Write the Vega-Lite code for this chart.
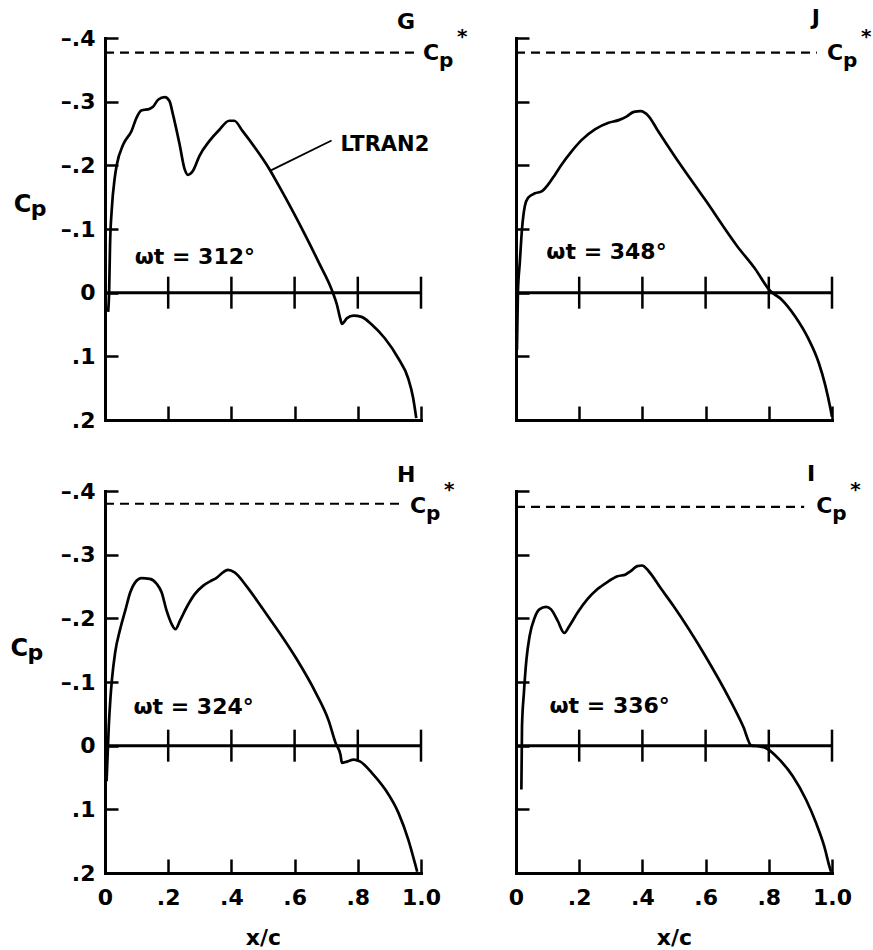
{
  "$schema": "https://vega.github.io/schema/vega-lite/v6.json",
  "background": "white",
  "padding": {"left": 10, "top": 6, "right": 0, "bottom": 0},
  "datasets": {
    "G": [
      {"x": 0.010, "cp": 0.03}, {"x": 0.013, "cp": 0.0}, {"x": 0.016, "cp": -0.076}, {"x": 0.021, "cp": -0.128},
      {"x": 0.031, "cp": -0.181}, {"x": 0.037, "cp": -0.2}, {"x": 0.058, "cp": -0.233}, {"x": 0.084, "cp": -0.254},
      {"x": 0.1, "cp": -0.275}, {"x": 0.115, "cp": -0.286}, {"x": 0.142, "cp": -0.289}, {"x": 0.152, "cp": -0.292},
      {"x": 0.168, "cp": -0.303}, {"x": 0.189, "cp": -0.307}, {"x": 0.204, "cp": -0.301}, {"x": 0.215, "cp": -0.28},
      {"x": 0.236, "cp": -0.233}, {"x": 0.252, "cp": -0.194}, {"x": 0.262, "cp": -0.185}, {"x": 0.278, "cp": -0.191},
      {"x": 0.299, "cp": -0.215}, {"x": 0.33, "cp": -0.238}, {"x": 0.362, "cp": -0.256}, {"x": 0.393, "cp": -0.27},
      {"x": 0.409, "cp": -0.27}, {"x": 0.435, "cp": -0.254}, {"x": 0.477, "cp": -0.226}, {"x": 0.519, "cp": -0.195},
      {"x": 0.55, "cp": -0.168}, {"x": 0.592, "cp": -0.13}, {"x": 0.634, "cp": -0.09}, {"x": 0.676, "cp": -0.048},
      {"x": 0.718, "cp": -0.004}, {"x": 0.734, "cp": 0.019}, {"x": 0.744, "cp": 0.04}, {"x": 0.75, "cp": 0.049},
      {"x": 0.766, "cp": 0.04}, {"x": 0.786, "cp": 0.036}, {"x": 0.812, "cp": 0.038}, {"x": 0.844, "cp": 0.05},
      {"x": 0.886, "cp": 0.072}, {"x": 0.928, "cp": 0.103}, {"x": 0.959, "cp": 0.134}, {"x": 0.975, "cp": 0.165},
      {"x": 0.985, "cp": 0.197}
    ],
    "J": [
      {"x": 0.003, "cp": 0.09}, {"x": 0.006, "cp": 0.0}, {"x": 0.012, "cp": -0.047}, {"x": 0.019, "cp": -0.1},
      {"x": 0.028, "cp": -0.136}, {"x": 0.038, "cp": -0.149}, {"x": 0.06, "cp": -0.156}, {"x": 0.081, "cp": -0.159},
      {"x": 0.102, "cp": -0.17}, {"x": 0.123, "cp": -0.185}, {"x": 0.144, "cp": -0.201}, {"x": 0.176, "cp": -0.222},
      {"x": 0.208, "cp": -0.24}, {"x": 0.251, "cp": -0.257}, {"x": 0.293, "cp": -0.267}, {"x": 0.325, "cp": -0.271},
      {"x": 0.351, "cp": -0.277}, {"x": 0.373, "cp": -0.284}, {"x": 0.394, "cp": -0.285}, {"x": 0.42, "cp": -0.277},
      {"x": 0.447, "cp": -0.256}, {"x": 0.5, "cp": -0.216}, {"x": 0.6, "cp": -0.145}, {"x": 0.7, "cp": -0.073},
      {"x": 0.756, "cp": -0.038}, {"x": 0.804, "cp": -0.003}, {"x": 0.841, "cp": 0.011}, {"x": 0.883, "cp": 0.037},
      {"x": 0.926, "cp": 0.073}, {"x": 0.958, "cp": 0.11}, {"x": 0.979, "cp": 0.146}, {"x": 0.995, "cp": 0.182},
      {"x": 1.0, "cp": 0.195}
    ],
    "H": [
      {"x": 0.005, "cp": 0.056}, {"x": 0.012, "cp": -0.031}, {"x": 0.017, "cp": -0.073}, {"x": 0.022, "cp": -0.104},
      {"x": 0.032, "cp": -0.146}, {"x": 0.048, "cp": -0.183}, {"x": 0.064, "cp": -0.212}, {"x": 0.08, "cp": -0.241},
      {"x": 0.095, "cp": -0.256}, {"x": 0.116, "cp": -0.263}, {"x": 0.142, "cp": -0.262}, {"x": 0.164, "cp": -0.254},
      {"x": 0.179, "cp": -0.241}, {"x": 0.195, "cp": -0.212}, {"x": 0.211, "cp": -0.191}, {"x": 0.223, "cp": -0.183},
      {"x": 0.237, "cp": -0.196}, {"x": 0.258, "cp": -0.217}, {"x": 0.284, "cp": -0.238}, {"x": 0.31, "cp": -0.251},
      {"x": 0.336, "cp": -0.259}, {"x": 0.352, "cp": -0.263}, {"x": 0.368, "cp": -0.27}, {"x": 0.389, "cp": -0.276},
      {"x": 0.41, "cp": -0.272}, {"x": 0.447, "cp": -0.251}, {"x": 0.488, "cp": -0.223}, {"x": 0.509, "cp": -0.208},
      {"x": 0.55, "cp": -0.179}, {"x": 0.604, "cp": -0.138}, {"x": 0.667, "cp": -0.083}, {"x": 0.708, "cp": -0.039},
      {"x": 0.73, "cp": -0.004}, {"x": 0.745, "cp": 0.014}, {"x": 0.75, "cp": 0.027}, {"x": 0.766, "cp": 0.025},
      {"x": 0.787, "cp": 0.022}, {"x": 0.808, "cp": 0.025}, {"x": 0.845, "cp": 0.043}, {"x": 0.887, "cp": 0.069},
      {"x": 0.929, "cp": 0.106}, {"x": 0.96, "cp": 0.148}, {"x": 0.981, "cp": 0.185}, {"x": 0.988, "cp": 0.198}
    ],
    "I": [
      {"x": 0.017, "cp": 0.069}, {"x": 0.019, "cp": -0.03}, {"x": 0.025, "cp": -0.083}, {"x": 0.033, "cp": -0.135},
      {"x": 0.043, "cp": -0.172}, {"x": 0.059, "cp": -0.201}, {"x": 0.074, "cp": -0.214}, {"x": 0.095, "cp": -0.218},
      {"x": 0.111, "cp": -0.214}, {"x": 0.132, "cp": -0.196}, {"x": 0.153, "cp": -0.177}, {"x": 0.169, "cp": -0.188},
      {"x": 0.195, "cp": -0.209}, {"x": 0.226, "cp": -0.23}, {"x": 0.258, "cp": -0.246}, {"x": 0.289, "cp": -0.257},
      {"x": 0.321, "cp": -0.266}, {"x": 0.347, "cp": -0.269}, {"x": 0.363, "cp": -0.274}, {"x": 0.384, "cp": -0.282},
      {"x": 0.399, "cp": -0.283}, {"x": 0.42, "cp": -0.274}, {"x": 0.457, "cp": -0.248}, {"x": 0.499, "cp": -0.219},
      {"x": 0.593, "cp": -0.146}, {"x": 0.677, "cp": -0.072}, {"x": 0.719, "cp": -0.03}, {"x": 0.745, "cp": 0.0},
      {"x": 0.77, "cp": 0.001}, {"x": 0.792, "cp": 0.004}, {"x": 0.834, "cp": 0.022}, {"x": 0.876, "cp": 0.048},
      {"x": 0.918, "cp": 0.085}, {"x": 0.95, "cp": 0.122}, {"x": 0.976, "cp": 0.159}, {"x": 0.992, "cp": 0.19},
      {"x": 0.997, "cp": 0.198}
    ],
    "xticks": [{"x": 0.2}, {"x": 0.4}, {"x": 0.6}, {"x": 0.8}, {"x": 1.0}],
    "one": [{}]
  },
  "columns": 2,
  "bounds": "flush",
  "spacing": {"row": 71, "column": 95},
  "concat": [
    {
      "width": 316, "height": 382,
      "layer": [
        {
          "data": {"name": "G"},
          "mark": {"type": "line", "color": "black", "strokeWidth": 2.7, "interpolate": "monotone"},
          "encoding": {
            "x": {"field": "x", "type": "quantitative", "scale": {"domain": [0, 1], "nice": false, "zero": false},
                  "axis": {"values": [0, 0.2, 0.4, 0.6, 0.8, 1], "tickSize": -14, "labels": false, "title": null}},
            "y": {"field": "cp", "type": "quantitative", "scale": {"domain": [-0.4, 0.2], "reverse": true, "nice": false, "zero": false},
                  "axis": {"values": [-0.4, -0.3, -0.2, -0.1, 0, 0.1, 0.2], "tickSize": -13, "labelPadding": 23, "title": null,
                           "labelExpr": "datum.value == 0 ? '0' : (datum.value < 0 ? '–' : '') + '.' + round(abs(datum.value) * 10)"}}
          }
        },
        {"data": {"name": "one"}, "mark": {"type": "rule", "color": "black", "strokeWidth": 2.2, "strokeDash": [9, 6]},
         "encoding": {"x": {"datum": 0, "type": "quantitative"}, "x2": {"datum": 0.985}, "y": {"datum": -0.377, "type": "quantitative"}}},
        {"data": {"name": "one"}, "mark": {"type": "rule", "color": "black", "strokeWidth": 3},
         "encoding": {"x": {"datum": 0, "type": "quantitative"}, "x2": {"datum": 1}, "y": {"datum": 0, "type": "quantitative"}}},
        {"data": {"name": "xticks"},
         "mark": {"type": "tick", "orient": "vertical", "size": 32, "thickness": 2.5, "color": "black", "opacity": 1},
         "encoding": {"x": {"field": "x", "type": "quantitative"}, "y": {"datum": 0, "type": "quantitative"}}},
        {"data": {"name": "one"}, "mark": {"type": "rule", "color": "black", "strokeWidth": 1.8},
         "encoding": {"x": {"datum": 0.717, "type": "quantitative"}, "y": {"datum": -0.239, "type": "quantitative"}, "x2": {"datum": 0.525}, "y2": {"datum": -0.192}}},
        {"data": {"name": "one"}, "mark": {"type": "text", "text": "LTRAN2", "align": "left", "baseline": "middle", "fontSize": 21},
         "encoding": {"x": {"datum": 0.745, "type": "quantitative"}, "y": {"datum": -0.232, "type": "quantitative"}}},
        {"data": {"name": "one"}, "mark": {"type": "text", "text": "ωt = 312°", "align": "left", "baseline": "middle", "fontSize": 22},
         "encoding": {"x": {"datum": 0.094, "type": "quantitative"}, "y": {"datum": -0.056, "type": "quantitative"}}},
        {"data": {"name": "one"}, "mark": {"type": "text", "text": "G", "align": "center", "baseline": "middle", "fontSize": 22},
         "encoding": {"x": {"datum": 0.953, "type": "quantitative"}, "y": {"datum": -0.425, "type": "quantitative"}}},
        {"data": {"name": "one"}, "mark": {"type": "text", "text": "C", "align": "left", "baseline": "middle", "fontSize": 22},
         "encoding": {"x": {"datum": 1.006, "type": "quantitative"}, "y": {"datum": -0.377, "type": "quantitative"}}},
        {"data": {"name": "one"}, "mark": {"type": "text", "text": "p", "align": "left", "baseline": "middle", "fontSize": 20, "dx": 16, "dy": 8},
         "encoding": {"x": {"datum": 1.006, "type": "quantitative"}, "y": {"datum": -0.377, "type": "quantitative"}}},
        {"data": {"name": "one"}, "mark": {"type": "text", "text": "*", "align": "left", "baseline": "middle", "fontSize": 20, "dx": 34, "dy": -16},
         "encoding": {"x": {"datum": 1.006, "type": "quantitative"}, "y": {"datum": -0.377, "type": "quantitative"}}},
        {"data": {"name": "one"}, "mark": {"type": "text", "text": "C", "align": "left", "baseline": "alphabetic", "fontSize": 24},
         "encoding": {"x": {"datum": -0.289, "type": "quantitative"}, "y": {"datum": -0.127, "type": "quantitative"}}},
        {"data": {"name": "one"}, "mark": {"type": "text", "text": "p", "align": "left", "baseline": "alphabetic", "fontSize": 22, "dx": 17, "dy": 4},
         "encoding": {"x": {"datum": -0.289, "type": "quantitative"}, "y": {"datum": -0.127, "type": "quantitative"}}}
      ]
    },
    {
      "width": 316, "height": 382,
      "layer": [
        {
          "data": {"name": "J"},
          "mark": {"type": "line", "color": "black", "strokeWidth": 2.7, "interpolate": "monotone"},
          "encoding": {
            "x": {"field": "x", "type": "quantitative", "scale": {"domain": [0, 1], "nice": false, "zero": false},
                  "axis": {"values": [0, 0.2, 0.4, 0.6, 0.8, 1], "tickSize": -14, "labels": false, "title": null}},
            "y": {"field": "cp", "type": "quantitative", "scale": {"domain": [-0.4, 0.2], "reverse": true, "nice": false, "zero": false},
                  "axis": {"values": [-0.4, -0.3, -0.2, -0.1, 0, 0.1, 0.2], "tickSize": -13, "labels": false, "title": null}}
          }
        },
        {"data": {"name": "one"}, "mark": {"type": "rule", "color": "black", "strokeWidth": 2.2, "strokeDash": [9, 6]},
         "encoding": {"x": {"datum": 0, "type": "quantitative"}, "x2": {"datum": 0.952}, "y": {"datum": -0.377, "type": "quantitative"}}},
        {"data": {"name": "one"}, "mark": {"type": "rule", "color": "black", "strokeWidth": 3},
         "encoding": {"x": {"datum": 0, "type": "quantitative"}, "x2": {"datum": 1}, "y": {"datum": 0, "type": "quantitative"}}},
        {"data": {"name": "xticks"},
         "mark": {"type": "tick", "orient": "vertical", "size": 32, "thickness": 2.5, "color": "black", "opacity": 1},
         "encoding": {"x": {"field": "x", "type": "quantitative"}, "y": {"datum": 0, "type": "quantitative"}}},
        {"data": {"name": "one"}, "mark": {"type": "text", "text": "ωt = 348°", "align": "left", "baseline": "middle", "fontSize": 22},
         "encoding": {"x": {"datum": 0.096, "type": "quantitative"}, "y": {"datum": -0.064, "type": "quantitative"}}},
        {"data": {"name": "one"}, "mark": {"type": "text", "text": "J", "align": "center", "baseline": "middle", "fontSize": 22},
         "encoding": {"x": {"datum": 0.949, "type": "quantitative"}, "y": {"datum": -0.432, "type": "quantitative"}}},
        {"data": {"name": "one"}, "mark": {"type": "text", "text": "C", "align": "left", "baseline": "middle", "fontSize": 22},
         "encoding": {"x": {"datum": 0.984, "type": "quantitative"}, "y": {"datum": -0.377, "type": "quantitative"}}},
        {"data": {"name": "one"}, "mark": {"type": "text", "text": "p", "align": "left", "baseline": "middle", "fontSize": 20, "dx": 16, "dy": 8},
         "encoding": {"x": {"datum": 0.984, "type": "quantitative"}, "y": {"datum": -0.377, "type": "quantitative"}}},
        {"data": {"name": "one"}, "mark": {"type": "text", "text": "*", "align": "left", "baseline": "middle", "fontSize": 20, "dx": 34, "dy": -16},
         "encoding": {"x": {"datum": 0.984, "type": "quantitative"}, "y": {"datum": -0.377, "type": "quantitative"}}}
      ]
    },
    {
      "width": 316, "height": 382,
      "layer": [
        {
          "data": {"name": "H"},
          "mark": {"type": "line", "color": "black", "strokeWidth": 2.7, "interpolate": "monotone"},
          "encoding": {
            "x": {"field": "x", "type": "quantitative", "scale": {"domain": [0, 1], "nice": false, "zero": false},
                  "axis": {"values": [0, 0.2, 0.4, 0.6, 0.8, 1], "tickSize": -14, "labelPadding": 28, "title": "x/c", "titlePadding": 19,
                           "labelExpr": "datum.value == 0 ? '0' : datum.value == 1 ? '1.0' : '.' + round(datum.value * 10)"}},
            "y": {"field": "cp", "type": "quantitative", "scale": {"domain": [-0.4, 0.2], "reverse": true, "nice": false, "zero": false},
                  "axis": {"values": [-0.4, -0.3, -0.2, -0.1, 0, 0.1, 0.2], "tickSize": -13, "labelPadding": 23, "title": null,
                           "labelExpr": "datum.value == 0 ? '0' : (datum.value < 0 ? '–' : '') + '.' + round(abs(datum.value) * 10)"}}
          }
        },
        {"data": {"name": "one"}, "mark": {"type": "rule", "color": "black", "strokeWidth": 2.2, "strokeDash": [9, 6]},
         "encoding": {"x": {"datum": 0, "type": "quantitative"}, "x2": {"datum": 0.943}, "y": {"datum": -0.38, "type": "quantitative"}}},
        {"data": {"name": "one"}, "mark": {"type": "rule", "color": "black", "strokeWidth": 3},
         "encoding": {"x": {"datum": 0, "type": "quantitative"}, "x2": {"datum": 1}, "y": {"datum": 0, "type": "quantitative"}}},
        {"data": {"name": "xticks"},
         "mark": {"type": "tick", "orient": "vertical", "size": 32, "thickness": 2.5, "color": "black", "opacity": 1},
         "encoding": {"x": {"field": "x", "type": "quantitative"}, "y": {"datum": 0, "type": "quantitative"}}},
        {"data": {"name": "one"}, "mark": {"type": "text", "text": "ωt = 324°", "align": "left", "baseline": "middle", "fontSize": 22},
         "encoding": {"x": {"datum": 0.09, "type": "quantitative"}, "y": {"datum": -0.061, "type": "quantitative"}}},
        {"data": {"name": "one"}, "mark": {"type": "text", "text": "H", "align": "center", "baseline": "middle", "fontSize": 22},
         "encoding": {"x": {"datum": 0.953, "type": "quantitative"}, "y": {"datum": -0.425, "type": "quantitative"}}},
        {"data": {"name": "one"}, "mark": {"type": "text", "text": "C", "align": "left", "baseline": "middle", "fontSize": 22},
         "encoding": {"x": {"datum": 0.965, "type": "quantitative"}, "y": {"datum": -0.377, "type": "quantitative"}}},
        {"data": {"name": "one"}, "mark": {"type": "text", "text": "p", "align": "left", "baseline": "middle", "fontSize": 20, "dx": 16, "dy": 8},
         "encoding": {"x": {"datum": 0.965, "type": "quantitative"}, "y": {"datum": -0.377, "type": "quantitative"}}},
        {"data": {"name": "one"}, "mark": {"type": "text", "text": "*", "align": "left", "baseline": "middle", "fontSize": 20, "dx": 34, "dy": -16},
         "encoding": {"x": {"datum": 0.965, "type": "quantitative"}, "y": {"datum": -0.377, "type": "quantitative"}}},
        {"data": {"name": "one"}, "mark": {"type": "text", "text": "C", "align": "left", "baseline": "alphabetic", "fontSize": 24},
         "encoding": {"x": {"datum": -0.299, "type": "quantitative"}, "y": {"datum": -0.141, "type": "quantitative"}}},
        {"data": {"name": "one"}, "mark": {"type": "text", "text": "p", "align": "left", "baseline": "alphabetic", "fontSize": 22, "dx": 17, "dy": 4},
         "encoding": {"x": {"datum": -0.299, "type": "quantitative"}, "y": {"datum": -0.141, "type": "quantitative"}}}
      ]
    },
    {
      "width": 316, "height": 382,
      "layer": [
        {
          "data": {"name": "I"},
          "mark": {"type": "line", "color": "black", "strokeWidth": 2.7, "interpolate": "monotone"},
          "encoding": {
            "x": {"field": "x", "type": "quantitative", "scale": {"domain": [0, 1], "nice": false, "zero": false},
                  "axis": {"values": [0, 0.2, 0.4, 0.6, 0.8, 1], "tickSize": -14, "labelPadding": 28, "title": "x/c", "titlePadding": 19,
                           "labelExpr": "datum.value == 0 ? '0' : datum.value == 1 ? '1.0' : '.' + round(datum.value * 10)"}},
            "y": {"field": "cp", "type": "quantitative", "scale": {"domain": [-0.4, 0.2], "reverse": true, "nice": false, "zero": false},
                  "axis": {"values": [-0.4, -0.3, -0.2, -0.1, 0, 0.1, 0.2], "tickSize": -13, "labels": false, "title": null}}
          }
        },
        {"data": {"name": "one"}, "mark": {"type": "rule", "color": "black", "strokeWidth": 2.2, "strokeDash": [9, 6]},
         "encoding": {"x": {"datum": 0, "type": "quantitative"}, "x2": {"datum": 0.912}, "y": {"datum": -0.375, "type": "quantitative"}}},
        {"data": {"name": "one"}, "mark": {"type": "rule", "color": "black", "strokeWidth": 3},
         "encoding": {"x": {"datum": 0, "type": "quantitative"}, "x2": {"datum": 1}, "y": {"datum": 0, "type": "quantitative"}}},
        {"data": {"name": "xticks"},
         "mark": {"type": "tick", "orient": "vertical", "size": 32, "thickness": 2.5, "color": "black", "opacity": 1},
         "encoding": {"x": {"field": "x", "type": "quantitative"}, "y": {"datum": 0, "type": "quantitative"}}},
        {"data": {"name": "one"}, "mark": {"type": "text", "text": "ωt = 336°", "align": "left", "baseline": "middle", "fontSize": 22},
         "encoding": {"x": {"datum": 0.106, "type": "quantitative"}, "y": {"datum": -0.063, "type": "quantitative"}}},
        {"data": {"name": "one"}, "mark": {"type": "text", "text": "I", "align": "center", "baseline": "middle", "fontSize": 22},
         "encoding": {"x": {"datum": 0.934, "type": "quantitative"}, "y": {"datum": -0.427, "type": "quantitative"}}},
        {"data": {"name": "one"}, "mark": {"type": "text", "text": "C", "align": "left", "baseline": "middle", "fontSize": 22},
         "encoding": {"x": {"datum": 0.95, "type": "quantitative"}, "y": {"datum": -0.377, "type": "quantitative"}}},
        {"data": {"name": "one"}, "mark": {"type": "text", "text": "p", "align": "left", "baseline": "middle", "fontSize": 20, "dx": 16, "dy": 8},
         "encoding": {"x": {"datum": 0.95, "type": "quantitative"}, "y": {"datum": -0.377, "type": "quantitative"}}},
        {"data": {"name": "one"}, "mark": {"type": "text", "text": "*", "align": "left", "baseline": "middle", "fontSize": 20, "dx": 34, "dy": -16},
         "encoding": {"x": {"datum": 0.95, "type": "quantitative"}, "y": {"datum": -0.377, "type": "quantitative"}}}
      ]
    }
  ],
  "config": {
    "view": {"stroke": null},
    "font": "DejaVu Sans",
    "axis": {
      "grid": false,
      "domainColor": "black", "domainWidth": 3, "domainCap": "square",
      "tickColor": "black", "tickWidth": 2.5,
      "labelColor": "black", "labelFont": "DejaVu Sans", "labelFontWeight": "bold", "labelFontSize": 22,
      "labelFlush": false, "labelOverlap": false,
      "titleColor": "black", "titleFont": "DejaVu Sans", "titleFontWeight": "bold", "titleFontSize": 22
    },
    "text": {"font": "DejaVu Sans", "fontWeight": "bold", "color": "black"}
  }
}
